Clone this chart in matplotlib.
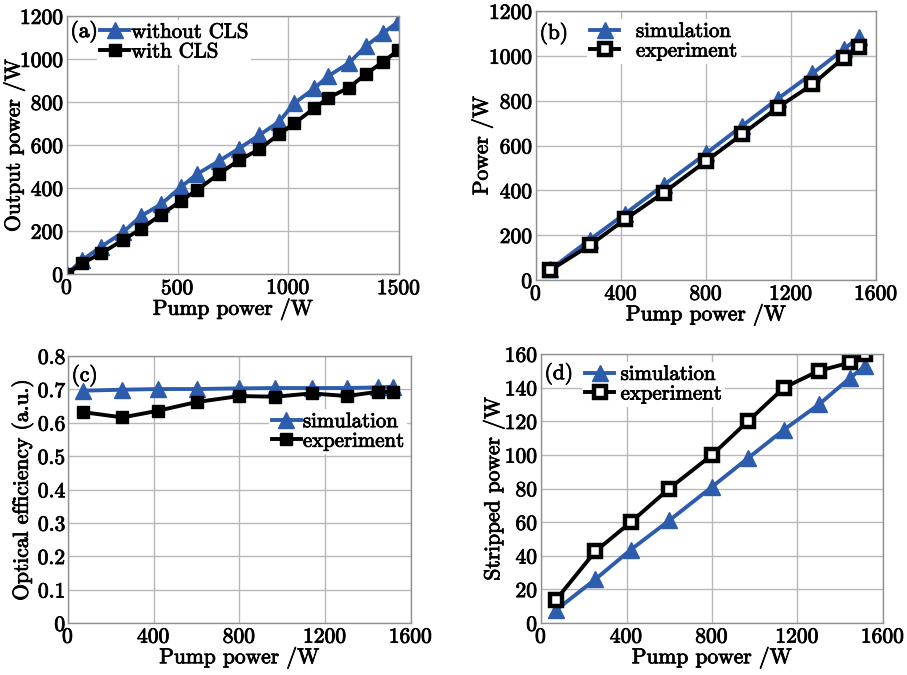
import numpy as np
import matplotlib
matplotlib.use("Agg")
import matplotlib.pyplot as plt
import matplotlib.patheffects as pe

plt.rcParams["font.family"] = ["cmr10", "DejaVu Serif"]
plt.rcParams["axes.formatter.use_mathtext"] = True
plt.rcParams["mathtext.fontset"] = "cm"

# (a) output power with / without cladding light stripper
pump_a = [0, 68, 154, 252, 335, 426, 516, 587, 685, 777, 868, 958, 1026, 1117, 1180, 1275, 1349, 1429, 1497]
out_without = [0, 65, 127, 194, 270, 326, 406, 465, 525, 584, 646, 709, 794, 864, 921, 983, 1060, 1122, 1174]
out_with = [0, 50, 96, 158, 211, 277, 341, 391, 465, 530, 580, 651, 701, 771, 820, 868, 930, 988, 1042]

# (b), (c), (d) share the pump points
pump = [68, 254, 420, 600, 800, 968, 1137, 1300, 1448, 1518]
power_sim = [48, 181, 297, 424, 565, 687, 809, 922, 1030, 1083]
power_exp = [45, 156, 272, 390, 531, 650, 770, 873, 993, 1041]

eff_sim = [0.696, 0.699, 0.701, 0.701, 0.703, 0.704, 0.704, 0.704, 0.706, 0.708]
eff_exp = [0.632, 0.616, 0.636, 0.662, 0.680, 0.678, 0.688, 0.680, 0.693, 0.693]

strip_sim = [7.5, 26, 43.6, 61, 81, 98, 115, 130, 146, 153]
strip_exp = [13.5, 42.6, 60, 80, 100, 120, 140, 150, 155, 160]

blue = "#2E5CAD"
fs = 15.5
lfs = 15
bold = [pe.withStroke(linewidth=0.6, foreground="black")]

fig = plt.figure(figsize=(9.07, 6.75), dpi=100)
ax_a = fig.add_axes([0.0739, 0.594, 0.366, 0.382])
ax_b = fig.add_axes([0.591, 0.585, 0.375, 0.3985])
ax_c = fig.add_axes([0.075, 0.077, 0.378, 0.3956])
ax_d = fig.add_axes([0.5965, 0.077, 0.377, 0.3985])


def style(ax, ylabel, ylab_x):
    ax.grid(True, color="#b8b8b8", lw=1.0)
    ax.set_axisbelow(True)
    for s in ax.spines.values():
        s.set_color("#909090")
        s.set_linewidth(1.0)
    ax.tick_params(length=0, labelsize=fs, pad=2)
    ax.tick_params(axis="x", pad=3)
    ax.set_xlabel("Pump power /W", fontsize=fs, labelpad=0)
    ax.set_ylabel(ylabel, fontsize=fs)
    ax.yaxis.set_label_coords(ylab_x, 0.5)
    for t in ax.get_xticklabels() + ax.get_yticklabels() + [ax.xaxis.label, ax.yaxis.label]:
        t.set_path_effects(bold)


def legend(ax, x, y, loc="upper left", pad=0.4):
    lg = ax.legend(loc=loc, bbox_to_anchor=(x, y), frameon=True, fancybox=False,
                   edgecolor="none", framealpha=1, fontsize=lfs, handlelength=1.4,
                   handletextpad=pad, labelspacing=0.05, borderpad=0.15, borderaxespad=0)
    for t in lg.get_texts():
        t.set_path_effects(bold)


def tag(ax, s, y):
    ax.text(0.01, y, s, transform=ax.transAxes, fontsize=fs, va="top", path_effects=bold)


kw_sim = dict(color=blue, lw=2.8, marker="^", ms=11.5)
kw_exp = dict(color="black", lw=2.8, marker="s", ms=9)
kw_exp_open = dict(color="black", lw=2.8, marker="s", ms=8.5, mfc="white", mew=3.2)

# (a)
ax_a.plot(pump_a, out_without, label="without CLS", **kw_sim)
ax_a.plot(pump_a, out_with, label="with CLS", **kw_exp)
ax_a.set_xlim(0, 1500)
ax_a.set_ylim(0, 1200)
ax_a.set_xticks([0, 500, 1000, 1500])
ax_a.set_yticks(np.arange(0, 1201, 200))
style(ax_a, "Output power /W", -0.125)
tag(ax_a, "(a)", 0.985)
legend(ax_a, 0.09, 0.985, pad=0.1)

# (b)
ax_b.plot(pump, power_sim, label="simulation", **kw_sim)
ax_b.plot(pump, power_exp, label="experiment", **kw_exp_open)
ax_b.set_xlim(0, 1600)
ax_b.set_ylim(0, 1200)
ax_b.set_xticks(np.arange(0, 1601, 400))
ax_b.set_yticks(np.arange(0, 1201, 200))
style(ax_b, "Power /W", -0.125)
tag(ax_b, "(b)", 0.96)
legend(ax_b, 0.15, 0.97, pad=0.8)

# (c)
ax_c.plot(pump, eff_sim, label="simulation", **kw_sim)
ax_c.plot(pump, eff_exp, label="experiment", **kw_exp)
ax_c.set_xlim(0, 1600)
ax_c.set_ylim(0, 0.8)
ax_c.set_xticks(np.arange(0, 1601, 400))
ax_c.set_yticks(np.arange(0, 0.81, 0.1))
ax_c.set_yticklabels(["0", "0.1", "0.2", "0.3", "0.4", "0.5", "0.6", "0.7", "0.8"])
style(ax_c, "Optical efficiency (a.u.)", -0.1)
tag(ax_c, "(c)", 0.97)
legend(ax_c, 0.99, 0.80, loc="upper right", pad=0.1)

# (d)
ax_d.plot(pump, strip_sim, label="simulation", **kw_sim)
ax_d.plot(pump, strip_exp, label="experiment", **kw_exp_open)
ax_d.set_xlim(0, 1600)
ax_d.set_ylim(0, 160)
ax_d.set_xticks(np.arange(0, 1601, 400))
ax_d.set_yticks(np.arange(0, 161, 20))
style(ax_d, "Stripped power /W", -0.105)
tag(ax_d, "(d)", 0.97)
legend(ax_d, 0.12, 0.97, pad=0.3)

fig.savefig("out.png", dpi=100)
